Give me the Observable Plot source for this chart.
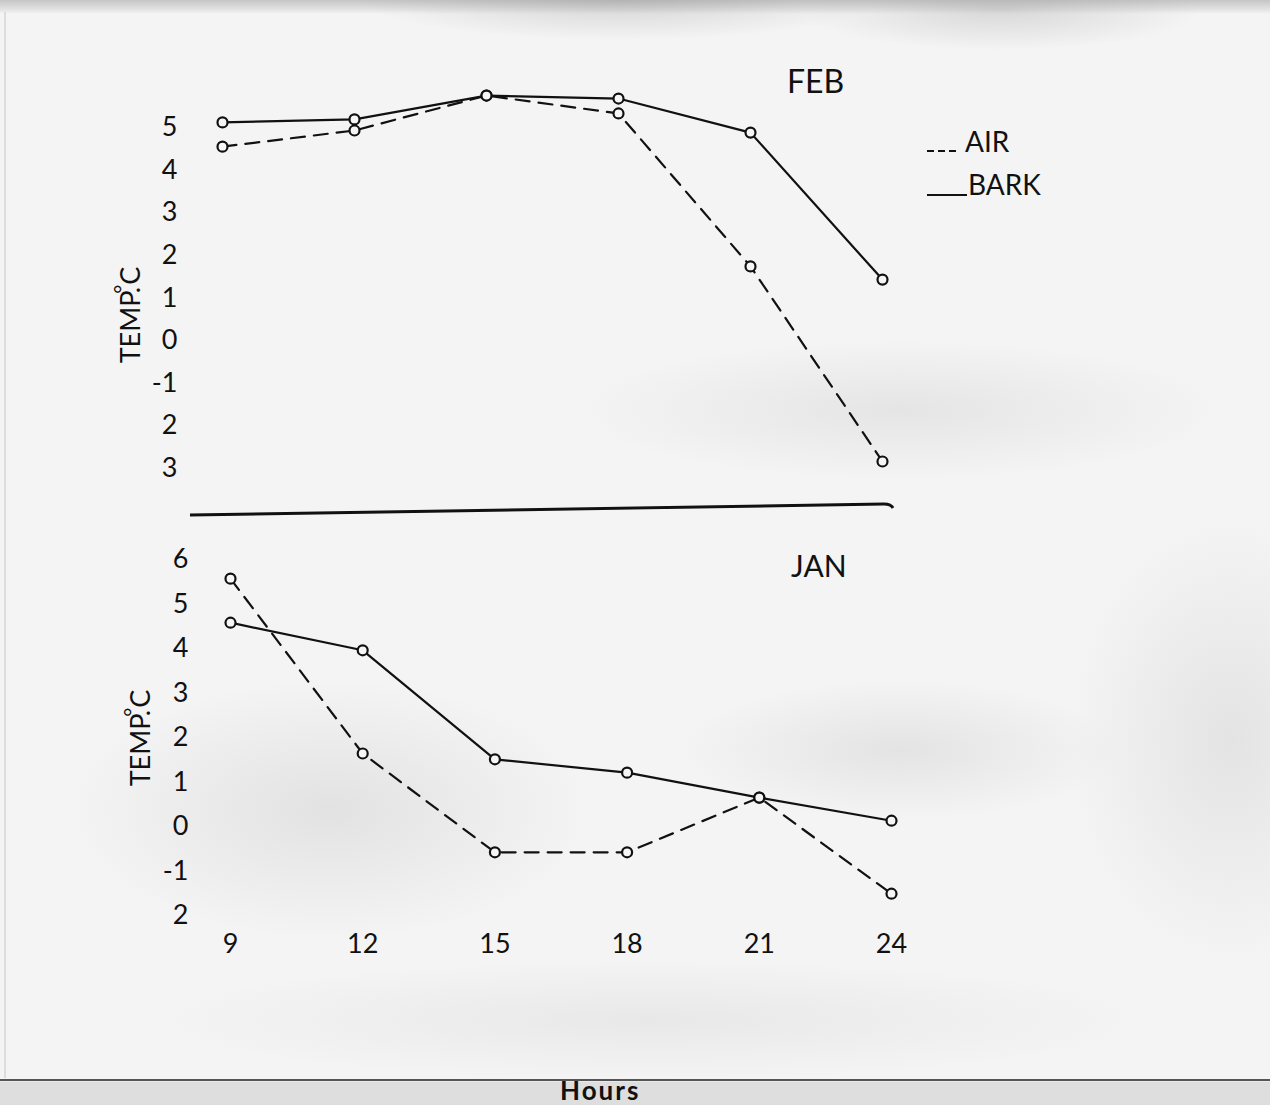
<!DOCTYPE html>
<html>
<head>
<meta charset="utf-8">
<script src="https://cdn.jsdelivr.net/npm/d3@7"></script>
<script src="https://cdn.jsdelivr.net/npm/@observablehq/plot@0.6"></script>
<style>
  html, body { margin: 0; padding: 0; }
  #page {
    position: relative; width: 1270px; height: 1105px; overflow: hidden;
    font-family: Lato, "Noto Sans", sans-serif; color: #111;
    background:
      linear-gradient(to bottom, rgba(140,140,140,0.45) 0px, rgba(140,140,140,0.15) 10px, transparent 14px),
      radial-gradient(ellipse 260px 40px at 620px 0px, rgba(150,150,150,0.35), transparent),
      radial-gradient(ellipse 200px 40px at 1000px 10px, rgba(150,150,150,0.3), transparent),
      radial-gradient(ellipse 320px 70px at 900px 410px, rgba(175,175,175,0.22), transparent),
      radial-gradient(ellipse 260px 130px at 330px 810px, rgba(175,175,175,0.26), transparent),
      radial-gradient(ellipse 220px 70px at 900px 750px, rgba(175,175,175,0.24), transparent),
      radial-gradient(ellipse 160px 220px at 1230px 740px, rgba(175,175,175,0.24), transparent),
      radial-gradient(ellipse 500px 60px at 650px 1020px, rgba(185,185,185,0.2), transparent),
      linear-gradient(to bottom, transparent 1081px, rgba(170,170,170,0.3) 1082px),
      #f4f4f4;
  }
  .plot { position: absolute; left: 0; }
  #overlay { position: absolute; left: 0; top: 0; pointer-events: none; }
</style>
</head>
<body>
<div id="page">
  <div id="feb" class="plot" style="top:0px"></div>
  <div id="jan" class="plot" style="top:520px"></div>
  <svg id="overlay" width="1270" height="1105" font-family="Lato, 'Noto Sans', sans-serif" fill="#111">
    <line x1="5" y1="12" x2="5" y2="1078" stroke="#d6d6d6" stroke-width="1.5"/>
    <line x1="0" y1="1080" x2="1270" y2="1080" stroke="#555" stroke-width="2"/>
    <path d="M190,515 L884,504 Q891,504 893,508" fill="none" stroke="#111" stroke-width="3"/>
    <text x="787" y="93" font-size="32">FEB</text>
    <text x="791" y="577" font-size="30">JAN</text>
    <text transform="translate(129,315) rotate(-90)" text-anchor="middle" dominant-baseline="central" font-size="27">TEMP.<tspan dx="-7" dy="-8" font-size="22">°</tspan><tspan dy="8">C</tspan></text>
    <text transform="translate(139,738) rotate(-90)" text-anchor="middle" dominant-baseline="central" font-size="27">TEMP.<tspan dx="-7" dy="-8" font-size="22">°</tspan><tspan dy="8">C</tspan></text>
    <line x1="927" y1="151" x2="958" y2="151" stroke="#111" stroke-width="2" stroke-dasharray="7,4"/>
    <text x="965" y="152" font-size="28">AIR</text>
    <line x1="927" y1="195" x2="967" y2="195" stroke="#111" stroke-width="2.2"/>
    <text x="968" y="195" font-size="28">BARK</text>
    <text x="560" y="1100" font-size="26" font-weight="bold" letter-spacing="2">Hours</text>
  </svg>
</div>
<script>
// ---- data ----
const hours = [9, 12, 15, 18, 21, 24];
const hourLabels = ["9", "12", "15", "18", "21", "24"];

const febAir  = [4.55, 4.93, 5.75, 5.33, 1.74, -2.84];
const febBark = [5.12, 5.19, 5.75, 5.68, 4.88, 1.43];

const janAir  = [5.57, 1.64, -0.58, -0.58, 0.65, -1.51];
const janBark = [4.58, 3.96, 1.51, 1.21, 0.65, 0.13];

const febTicks  = [5, 4, 3, 2, 1, 0, -1, -2, -3];
const febLabels = ["5", "4", "3", "2", "1", "0", "-1", "2", "3"];
const janTicks  = [6, 5, 4, 3, 2, 1, 0, -1, -2];
const janLabels = ["6", "5", "4", "3", "2", "1", "0", "-1", "2"];

const FONT = "Lato, 'Noto Sans', sans-serif";
const INK = "#111";

function rows(air, bark) {
  return [
    ...hours.map((h, i) => ({hour: h, series: "AIR", temp: air[i]})),
    ...hours.map((h, i) => ({hour: h, series: "BARK", temp: bark[i]}))
  ];
}

function panel({air, bark, ticks, labels, xAxis, height, marginLeft, marginRight, marginTop, marginBottom, domain, tickPadding}) {
  const data = rows(air, bark);
  const marks = [
    Plot.axisY({
      ticks, tickFormat: d => labels[ticks.indexOf(d)],
      tickSize: 0, tickPadding, fontSize: 27, fontFamily: FONT, fill: INK, label: null
    }),
    Plot.line(data.filter(d => d.series === "AIR"), {
      x: "hour", y: "temp", stroke: INK, strokeWidth: 2.2, strokeDasharray: "14,9"
    }),
    Plot.line(data.filter(d => d.series === "BARK"), {
      x: "hour", y: "temp", stroke: INK, strokeWidth: 2.2
    }),
    Plot.dot(data, {x: "hour", y: "temp", r: 5, stroke: INK, strokeWidth: 2.2, fill: "#f6f6f6"})
  ];
  if (xAxis) {
    marks.unshift(Plot.axisX({
      ticks: hours, tickFormat: d => hourLabels[hours.indexOf(d)],
      tickSize: 0, tickPadding: 5, fontSize: 27, fontFamily: FONT, fill: INK, label: null
    }));
  }
  return Plot.plot({
    width: 1270, height, marginLeft, marginRight, marginTop, marginBottom,
    x: {domain: [9, 24], axis: null},
    y: {domain, axis: null},
    style: {background: "transparent", overflow: "visible"},
    marks
  });
}

document.getElementById("feb").append(panel({
  air: febAir, bark: febBark, ticks: febTicks, labels: febLabels, xAxis: false,
  height: 520, marginLeft: 222, marginRight: 388, marginTop: 63.1, marginBottom: 30.9,
  domain: [-3.5, 6.5], tickPadding: 45
}));

document.getElementById("jan").append(panel({
  air: janAir, bark: janBark, ticks: janTicks, labels: janLabels, xAxis: true,
  height: 480, marginLeft: 230, marginRight: 379, marginTop: 12.3, marginBottom: 71.65,
  domain: [-2.3, 6.6], tickPadding: 42
}));
</script>
</body>
</html>
